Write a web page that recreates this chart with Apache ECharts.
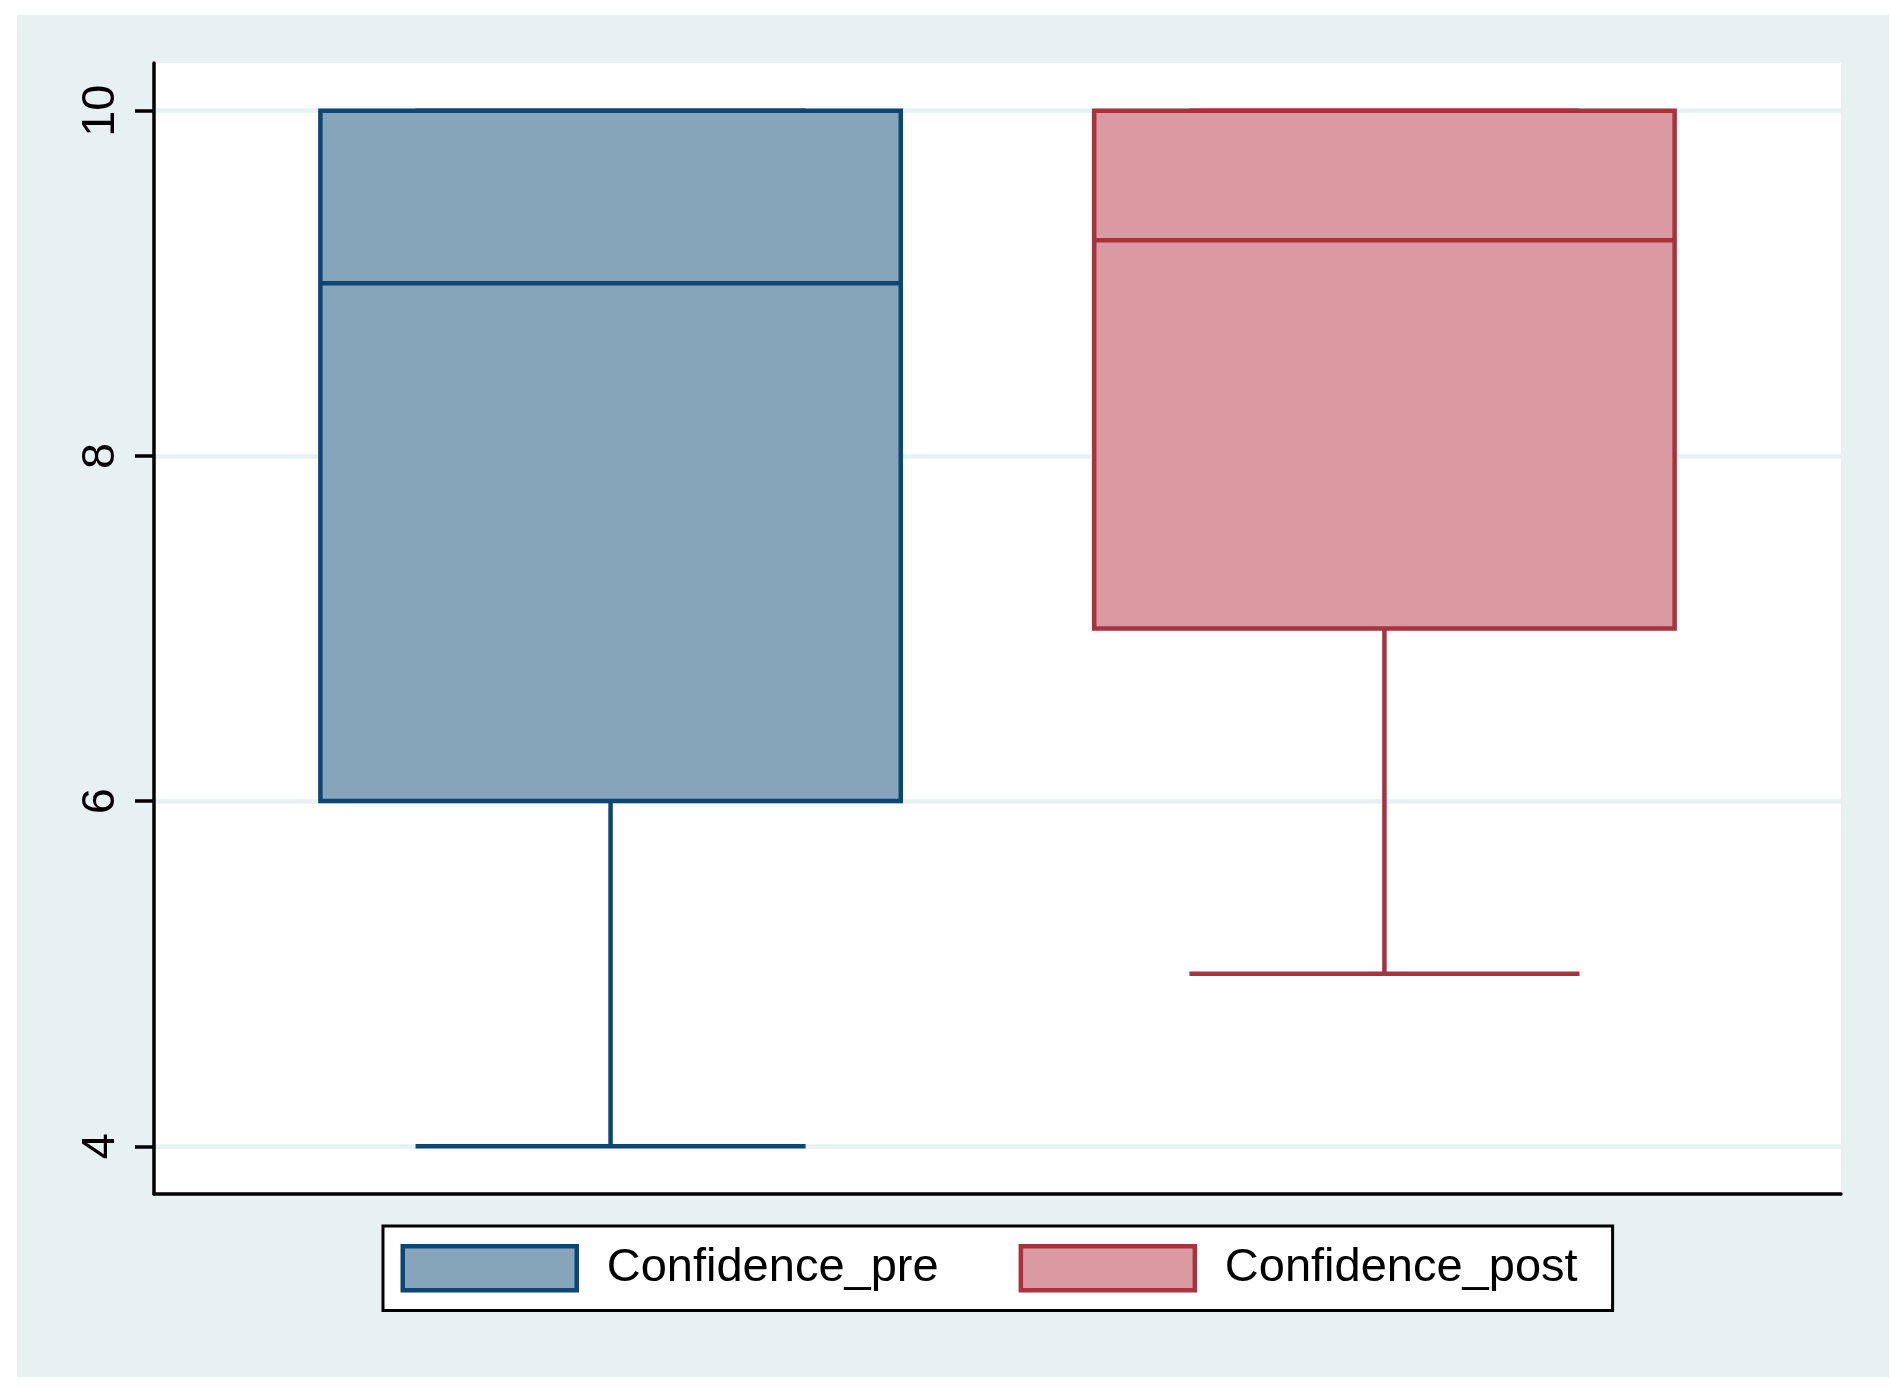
<!DOCTYPE html>
<html><head><meta charset="utf-8">
<script src="https://cdn.jsdelivr.net/npm/echarts@6/dist/echarts.min.js"></script>
<style>html,body{margin:0;padding:0;background:#fff;}#c{width:1897px;height:1388px;}</style>
</head><body><div id="c"></div>
<script>
// ---- data ----
const categories = ['Confidence_pre', 'Confidence_post'];
const categoryPositions = [1, 2];
// [min (lower whisker), Q1, median, Q3, max (upper whisker)]
const preStats = [4, 6, 9, 10, 10];
const postStats = [5, 7, 9.25, 10, 10];
const yTickValues = [4, 6, 8, 10];
const seriesStats = [preStats, postStats];

// ---- styles ----
const FONT = "'Liberation Sans', Arial, sans-serif";
const BG = '#e7f1f2';
const borders = ['#0d4673', '#a8333f'];
const fills = ['#86a5ba', '#d99ba1'];
const LW = 4.5;

function renderBox(params, api) {
  const idx = params.seriesIndex;
  const x = api.value(0);
  const mn = api.value(1), q1 = api.value(2), med = api.value(3), q3 = api.value(4), mx = api.value(5);
  const cx = api.coord([x, q3])[0];
  const yMin = api.coord([x, mn])[1];
  const yQ1 = api.coord([x, q1])[1];
  const yMed = api.coord([x, med])[1];
  const yQ3 = api.coord([x, q3])[1];
  const yMax = api.coord([x, mx])[1];
  const halfBox = api.size([0.375, 0])[0];
  const halfCap = api.size([0.252, 0])[0];
  const stroke = borders[idx];
  const ls = { stroke: stroke, lineWidth: LW, fill: null };
  return {
    type: 'group',
    children: [
      { type: 'line', shape: { x1: cx, y1: yQ1, x2: cx, y2: yMin }, style: ls },
      { type: 'line', shape: { x1: cx, y1: yQ3, x2: cx, y2: yMax }, style: ls },
      { type: 'line', shape: { x1: cx - halfCap, y1: yMin, x2: cx + halfCap, y2: yMin }, style: ls },
      { type: 'line', shape: { x1: cx - halfCap, y1: yMax, x2: cx + halfCap, y2: yMax }, style: ls },
      { type: 'rect', shape: { x: cx - halfBox, y: yQ3, width: 2 * halfBox, height: yQ1 - yQ3 },
        style: { fill: fills[idx], stroke: stroke, lineWidth: LW } },
      { type: 'line', shape: { x1: cx - halfBox, y1: yMed, x2: cx + halfBox, y2: yMed }, style: ls }
    ]
  };
}

const chart = echarts.init(document.getElementById('c'), null, { renderer: 'canvas' });
chart.setOption({
  animation: false,
  backgroundColor: '#fff',
  graphic: [{
    type: 'rect', z: -10, silent: true,
    shape: { x: 17, y: 15, width: 1872, height: 1362 },
    style: { fill: BG }
  }],
  grid: [
    { left: 154, right: 56, top: 63, bottom: 194, show: true, backgroundColor: '#fff', borderWidth: 0 },
    { left: 154, right: 56, top: 110.7, bottom: 241.7, show: false }
  ],
  xAxis: [
    { gridIndex: 0, type: 'value', min: 0, max: 1,
      axisLine: { show: true, lineStyle: { color: '#000', width: 3.5 } },
      axisTick: { show: false }, axisLabel: { show: false }, splitLine: { show: false } },
    { gridIndex: 1, type: 'value', min: 0.41, max: 2.59, show: false, splitLine: { show: false } }
  ],
  yAxis: [
    { gridIndex: 0, type: 'value', min: 0, max: 1,
      axisLine: { show: true, lineStyle: { color: '#000', width: 3.5 } },
      axisTick: { show: false }, axisLabel: { show: false }, splitLine: { show: false } },
    { gridIndex: 1, type: 'value', min: yTickValues[0], max: yTickValues[yTickValues.length - 1], interval: 2,
      axisLine: { show: false },
      axisTick: { show: true, inside: false, length: 19, lineStyle: { color: '#000', width: 3.5 } },
      axisLabel: { show: true, rotate: 90, margin: 29, fontSize: 47, fontFamily: FONT, color: '#000' },
      splitLine: { show: true, lineStyle: { color: BG, width: 4.5 } } }
  ],
  legend: {
    left: 383, top: 1226, orient: 'horizontal',
    padding: [18, 35, 18, 17.5],
    itemGap: 80, itemWidth: 174, itemHeight: 44,
    backgroundColor: '#fff', borderColor: '#000', borderWidth: 3,
    selectedMode: false,
    textStyle: { fontSize: 47, fontFamily: FONT, color: '#000', lineHeight: 44, padding: [0, 0, 0, 25] },
    data: categories.map((n, i) => ({
      name: n, icon: 'rect',
      itemStyle: { color: fills[i], borderColor: borders[i], borderWidth: LW }
    }))
  },
  series: categories.map((n, i) => ({
    name: n,
    type: 'custom',
    xAxisIndex: 1, yAxisIndex: 1,
    clip: false,
    itemStyle: { color: fills[i], borderColor: borders[i] },
    encode: { x: 0, y: [1, 2, 3, 4, 5] },
    data: [[categoryPositions[i]].concat(seriesStats[i])],
    renderItem: renderBox
  }))
});
</script>
</body></html>
